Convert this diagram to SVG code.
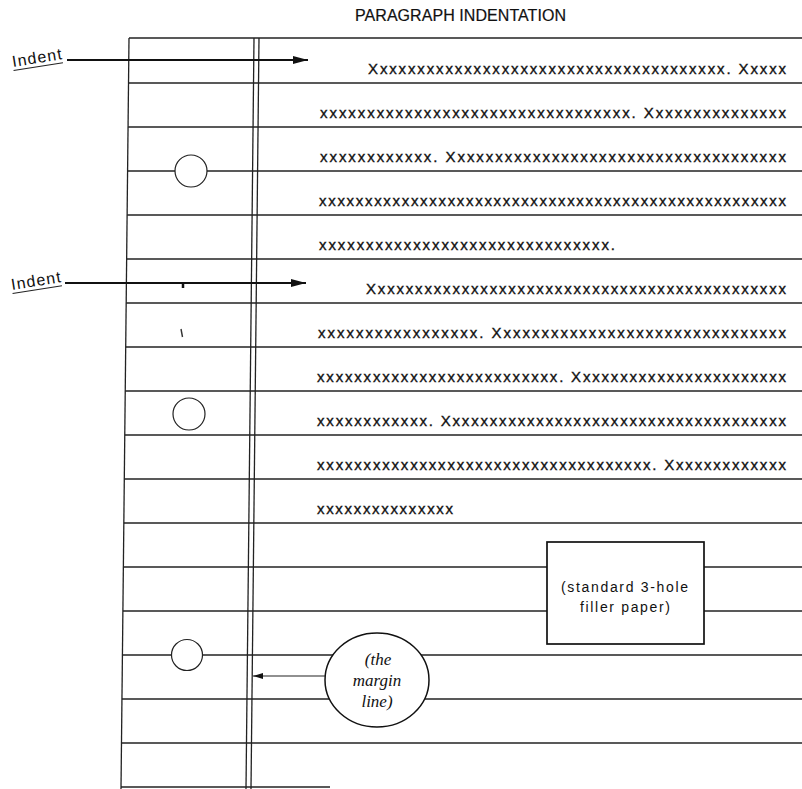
<svg xmlns="http://www.w3.org/2000/svg" width="802" height="789" viewBox="0 0 802 789">
<style>
.ln{stroke:#222;stroke-width:1.4;fill:none}
.vl{stroke:#222;stroke-width:1.3;fill:none}
.hole{fill:#fff;stroke:#222;stroke-width:1.2}
.row{font-family:"Liberation Sans",Arial,sans-serif;font-size:15px;fill:#111;stroke:#111;stroke-width:0.35}
.ttl{font-family:"Liberation Sans",Arial,sans-serif;font-size:16px;fill:#111;stroke:#111;stroke-width:0.2}
.lbl{font-family:"Liberation Sans",Arial,sans-serif;font-size:14px;fill:#111}
.ind{font-family:"Liberation Sans",Arial,sans-serif;font-size:16px;fill:#111}
.box{fill:#fff;stroke:#111;stroke-width:1.7}
.it{font-family:"Liberation Serif","Times New Roman",serif;font-style:italic;font-size:17px;fill:#111}
.arr{stroke:#111;stroke-width:2;fill:none}
.arr2{stroke:#222;stroke-width:1.1;fill:none}
</style>
<defs>
<marker id="ah" markerUnits="userSpaceOnUse" markerWidth="16" markerHeight="10" refX="15" refY="4" orient="auto">
<path d="M0,0 L15,4 L0,8 Z" fill="#111"/>
</marker>
<marker id="ahs" markerUnits="userSpaceOnUse" markerWidth="12" markerHeight="8" refX="10" refY="3" orient="auto">
<path d="M0,0 L10,3 L0,6 Z" fill="#111"/>
</marker>
</defs>
<rect width="802" height="789" fill="#fff"/>
<text class="ttl" x="355" y="21" textLength="211">PARAGRAPH INDENTATION</text>
<g id="paper">
<line class="vl" x1="129" y1="38" x2="121" y2="789"/>
<line class="vl" x1="254" y1="38" x2="246" y2="789"/>
<line class="vl" x1="259" y1="38" x2="251" y2="789"/>
<line class="ln" x1="129" y1="38" x2="802" y2="38"/>
<line class="ln" x1="128.5" y1="83" x2="802" y2="83"/>
<line class="ln" x1="128.1" y1="127" x2="802" y2="127"/>
<line class="ln" x1="127.6" y1="171" x2="802" y2="171"/>
<line class="ln" x1="127.1" y1="215" x2="802" y2="215"/>
<line class="ln" x1="126.6" y1="259" x2="802" y2="259"/>
<line class="ln" x1="126.2" y1="303" x2="802" y2="303"/>
<line class="ln" x1="125.7" y1="347" x2="802" y2="347"/>
<line class="ln" x1="125.2" y1="391" x2="802" y2="391"/>
<line class="ln" x1="124.8" y1="435" x2="802" y2="435"/>
<line class="ln" x1="124.3" y1="479" x2="802" y2="479"/>
<line class="ln" x1="123.8" y1="523" x2="802" y2="523"/>
<line class="ln" x1="123.4" y1="567" x2="802" y2="567"/>
<line class="ln" x1="122.9" y1="611" x2="802" y2="611"/>
<line class="ln" x1="122.4" y1="655" x2="802" y2="655"/>
<line class="ln" x1="121.9" y1="699" x2="802" y2="699"/>
<line class="ln" x1="121.5" y1="743" x2="802" y2="743"/>
<line class="ln" x1="121" y1="787" x2="330" y2="787"/>
<line stroke="#111" stroke-width="2.5" x1="183" y1="283" x2="183" y2="288"/>
<line stroke="#333" stroke-width="1.4" x1="181" y1="329" x2="182.5" y2="337"/>
</g>
<g id="holes">
<circle id="hole-top" class="hole" cx="191" cy="171" r="16"/>
<circle id="hole-middle" class="hole" cx="189" cy="414" r="16"/>
<circle id="hole-bottom" class="hole" cx="187" cy="655" r="15.5"/>
</g>
<g id="text-rows">
<text class="row" x="368" y="74" textLength="418">Xxxxxxxxxxxxxxxxxxxxxxxxxxxxxxxxxxxxxx. Xxxxx</text>
<text class="row" x="320" y="118" textLength="466">xxxxxxxxxxxxxxxxxxxxxxxxxxxxxxxxx. Xxxxxxxxxxxxxxx</text>
<text class="row" x="320" y="162" textLength="466">xxxxxxxxxxxx. Xxxxxxxxxxxxxxxxxxxxxxxxxxxxxxxxxxxx</text>
<text class="row" x="319" y="206" textLength="467">xxxxxxxxxxxxxxxxxxxxxxxxxxxxxxxxxxxxxxxxxxxxxxxxxxx</text>
<text class="row" x="319" y="250" textLength="296">xxxxxxxxxxxxxxxxxxxxxxxxxxxxxxx.</text>
<text class="row" x="366" y="294" textLength="420">Xxxxxxxxxxxxxxxxxxxxxxxxxxxxxxxxxxxxxxxxxxxxx</text>
<text class="row" x="318" y="338" textLength="468">xxxxxxxxxxxxxxxxx. Xxxxxxxxxxxxxxxxxxxxxxxxxxxxxxx</text>
<text class="row" x="317" y="382" textLength="469">xxxxxxxxxxxxxxxxxxxxxxxxxx. Xxxxxxxxxxxxxxxxxxxxxxx</text>
<text class="row" x="317" y="426" textLength="469">xxxxxxxxxxxx. Xxxxxxxxxxxxxxxxxxxxxxxxxxxxxxxxxxxxx</text>
<text class="row" x="317" y="470" textLength="469">xxxxxxxxxxxxxxxxxxxxxxxxxxxxxxxxxxxx. Xxxxxxxxxxxxx</text>
<text class="row" x="317" y="514" textLength="136">xxxxxxxxxxxxxxx</text>
</g>
<g id="indent-label-1" transform="rotate(-9 13 67)">
<text class="ind" x="13" y="67" textLength="50">Indent</text>
<line stroke="#222" stroke-width="1" x1="13" y1="70.5" x2="63" y2="70.5"/>
</g>
<g id="indent-label-2" transform="rotate(-9 12 290)">
<text class="ind" x="12" y="290" textLength="50">Indent</text>
<line stroke="#222" stroke-width="1" x1="12" y1="293.5" x2="62" y2="293.5"/>
</g>
<g id="filler-box">
<rect class="box" x="547" y="542" width="157" height="102"/>
<text class="lbl" x="561" y="592" font-size="16" textLength="127">(standard 3-hole</text>
<text class="lbl" x="580" y="612" font-size="16" textLength="90">filler paper)</text>
</g>
<g id="margin-label">
<ellipse fill="#fff" stroke="#111" stroke-width="1.5" cx="377" cy="680" rx="52" ry="47"/>
<text class="it" x="378" y="665" text-anchor="middle">(the</text>
<text class="it" x="377" y="686" text-anchor="middle">margin</text>
<text class="it" x="377" y="707" text-anchor="middle">line)</text>
</g>
<g id="connectors">
<line class="arr" x1="67" y1="60" x2="308" y2="60" marker-end="url(#ah)"/>
<line class="arr" x1="65" y1="283" x2="306" y2="283" marker-end="url(#ah)"/>
<line class="arr2" x1="325" y1="676" x2="253" y2="676" marker-end="url(#ahs)"/>
</g>
</svg>
